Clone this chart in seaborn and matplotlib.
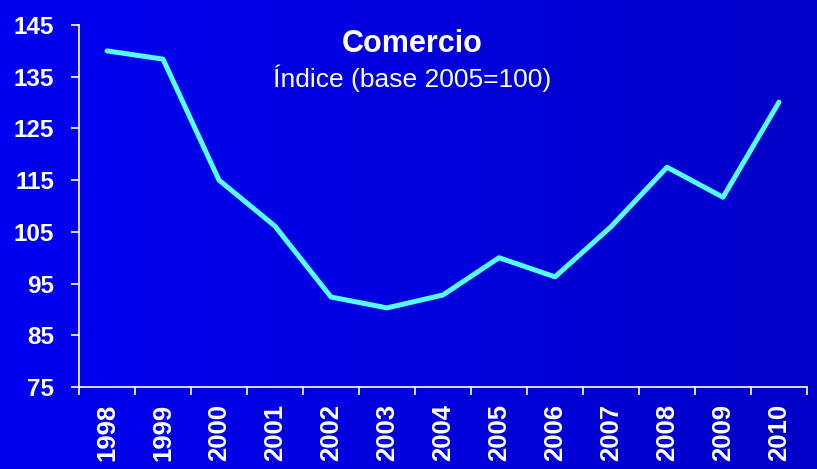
import numpy as np
import pandas as pd
import matplotlib
matplotlib.use("Agg")
from matplotlib import pyplot as plt
from matplotlib.ticker import FixedLocator
import seaborn as sns

years = [1998, 1999, 2000, 2001, 2002, 2003, 2004, 2005, 2006, 2007, 2008, 2009, 2010]
indice = [140.0, 138.4, 115.0, 106.1, 92.4, 90.3, 92.8, 100.0, 96.3, 106.0, 117.5, 111.7, 130.1]
y_ticks = [75, 85, 95, 105, 115, 125, 135, 145]

df = pd.DataFrame({"year": years, "indice": indice})

sns.set_theme(style="white")
plt.rcParams['font.family'] = ['Liberation Sans', 'DejaVu Sans']

fig = plt.figure(figsize=(8.17, 4.69), dpi=100)

# gradient background
bg = fig.add_axes([0, 0, 1, 1], zorder=0)
grad = np.linspace(0, 1, 256).reshape(1, -1)
cmap = matplotlib.colors.LinearSegmentedColormap.from_list("bg", ["#0000f2", "#0000c8"])
bg.imshow(grad, aspect="auto", cmap=cmap, extent=[0, 1, 0, 1])
bg.axis("off")

ax = fig.add_axes([0.0967, 0.1748, 0.8911, 0.7719], zorder=1)
ax.patch.set_alpha(0)

sns.lineplot(data=df, x="year", y="indice", ax=ax, color="#55ffff", linewidth=3.6)

ax.set_xlim(years[0] - 0.5, years[-1] + 0.5)
ax.set_ylim(75, 145)
ax.set_yticks(y_ticks)
ax.set_yticklabels([str(v) for v in y_ticks])

# category boundaries as major ticks, labels on minor ticks at centers
ax.xaxis.set_major_locator(FixedLocator([y - 0.5 for y in years] + [years[-1] + 0.5]))
ax.xaxis.set_major_formatter(matplotlib.ticker.NullFormatter())
ax.xaxis.set_minor_locator(FixedLocator(years))
ax.set_xticklabels([str(y) for y in years], minor=True)

ax.tick_params(axis="x", which="major", length=6, width=1.2, color="white", direction="out", bottom=True)
ax.tick_params(axis="x", which="minor", length=0, pad=12, labelsize=18.5, labelcolor="white", rotation=90, bottom=True)
ax.tick_params(axis="y", length=6, width=1.2, color="white", direction="out", pad=12, labelsize=17.5, labelcolor="white", left=True)
for lab in ax.get_xticklabels(minor=True) + ax.get_yticklabels():
    lab.set_fontweight("bold")

for s in ["top", "right"]:
    ax.spines[s].set_visible(False)
for s in ["left", "bottom"]:
    ax.spines[s].set_color("white")
    ax.spines[s].set_linewidth(1.2)

ax.set_xlabel("")
ax.set_ylabel("")

fig.text(0.504, 0.906, "Comercio", color="white", fontsize=22, fontweight="bold", ha="center", va="center")
fig.text(0.504, 0.834, "Índice (base 2005=100)", color="white", fontsize=19, ha="center", va="center")

fig.savefig("out.png", dpi=100)
